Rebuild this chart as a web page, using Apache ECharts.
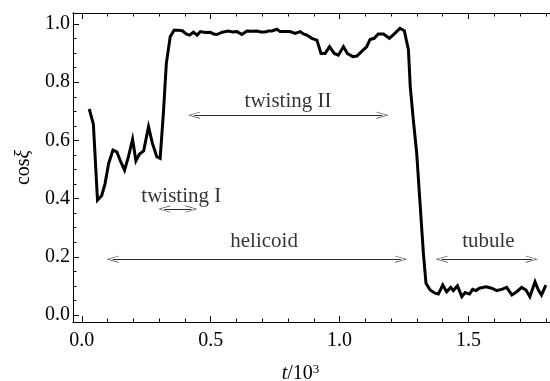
<!DOCTYPE html>
<html>
<head>
<meta charset="utf-8">
<script src="https://cdn.jsdelivr.net/npm/echarts@6/dist/echarts.min.js"></script>
<style>
  html, body { margin: 0; padding: 0; background: #fff; }
  #chart { width: 550px; height: 381px; }
</style>
</head>
<body>
<div id="chart"></div>
<script>
// time in units of 10^3
const tValues = [
  0.029, 0.045, 0.061, 0.077, 0.090, 0.104, 0.121, 0.136, 0.151, 0.166,
  0.181, 0.197, 0.210, 0.224, 0.240, 0.259, 0.274, 0.291, 0.304, 0.317,
  0.328, 0.343, 0.358, 0.375, 0.390, 0.405, 0.418, 0.433, 0.447, 0.460,
  0.479, 0.498, 0.511, 0.524, 0.545, 0.569, 0.585, 0.602, 0.621, 0.640,
  0.660, 0.679, 0.695, 0.711, 0.724, 0.737, 0.757, 0.769, 0.790, 0.808,
  0.828, 0.847, 0.860, 0.873, 0.892, 0.912, 0.928, 0.944, 0.961, 0.979,
  0.995, 1.015, 1.030, 1.051, 1.067, 1.092, 1.105, 1.118, 1.134, 1.150,
  1.170, 1.193, 1.209, 1.234, 1.251, 1.267, 1.274, 1.286, 1.299, 1.312,
  1.325, 1.335, 1.351, 1.370, 1.383, 1.400, 1.415, 1.431, 1.441, 1.457,
  1.474, 1.487, 1.504, 1.516, 1.529, 1.542, 1.568, 1.590, 1.609, 1.629,
  1.648, 1.668, 1.687, 1.706, 1.723, 1.738, 1.758, 1.771, 1.783, 1.800
];
const cosValues = [
  0.708, 0.656, 0.395, 0.410, 0.450, 0.520, 0.567, 0.561, 0.527, 0.498,
  0.544, 0.604, 0.530, 0.553, 0.564, 0.647, 0.590, 0.544, 0.538, 0.700,
  0.865, 0.956, 0.979, 0.979, 0.977, 0.966, 0.962, 0.972, 0.962, 0.974,
  0.971, 0.972, 0.966, 0.964, 0.972, 0.976, 0.973, 0.974, 0.964, 0.976,
  0.975, 0.976, 0.973, 0.973, 0.976, 0.976, 0.982, 0.974, 0.974, 0.974,
  0.968, 0.974, 0.966, 0.962, 0.951, 0.945, 0.899, 0.899, 0.922, 0.899,
  0.893, 0.922, 0.899, 0.888, 0.890, 0.911, 0.922, 0.947, 0.951, 0.966,
  0.966, 0.951, 0.964, 0.985, 0.977, 0.911, 0.785, 0.670, 0.556, 0.384,
  0.212, 0.109, 0.086, 0.075, 0.072, 0.103, 0.080, 0.095, 0.084, 0.100,
  0.063, 0.077, 0.072, 0.088, 0.084, 0.092, 0.097, 0.092, 0.084, 0.088,
  0.095, 0.069, 0.080, 0.095, 0.086, 0.063, 0.114, 0.086, 0.069, 0.103
];

const xMajorTicks = [0, 0.5, 1.0, 1.5];
const xMinorTicks = [0.1, 0.2, 0.3, 0.4, 0.6, 0.7, 0.8, 0.9, 1.1, 1.2, 1.3, 1.4, 1.6, 1.7, 1.8];
const yMajorTicks = [0, 0.2, 0.4, 0.6, 0.8, 1.0];
const yMinorTicks = [0.05, 0.1, 0.15, 0.25, 0.3, 0.35, 0.45, 0.5, 0.55, 0.65, 0.7, 0.75, 0.85, 0.9, 0.95];

// region arrows (tip to tip, height) and their labels
const arrowStart = [0.414, 0.298, 0.098, 1.374];
const arrowEnd = [1.188, 0.447, 1.260, 1.767];
const arrowY = [0.687, 0.364, 0.192, 0.192];
const regionNames = ["twisting II", "twisting I", "helicoid", "tubule"];
const regionLabelX = [0.800, 0.386, 0.707, 1.577];
const regionLabelY = [0.734, 0.409, 0.252, 0.252];

const serif = "Liberation Serif";
const chevron = "path://M5,0 L10,12 L9,12 L5,1.8 L1,12 L0,12 Z";
const headInset = 0.022; // arrow heads are centred on the line ends

const chart = echarts.init(document.getElementById("chart"), null, { renderer: "canvas" });

const xRange = { min: -0.034, max: 1.816 };
const yRange = { min: -0.024, max: 1.038 };

function xAxisDef(position, ticks, len, withLabels) {
  return {
    type: "value", position, ...xRange,
    axisLine: { show: true, onZero: false, lineStyle: { color: "#000", width: 1 } },
    axisTick: { show: true, inside: true, length: len, customValues: ticks, lineStyle: { color: "#000", width: 1 } },
    axisLabel: withLabels
      ? { show: true, customValues: ticks, margin: 9, color: "#000", fontFamily: serif, fontSize: 20, formatter: v => v.toFixed(1) }
      : { show: false },
    splitLine: { show: false }
  };
}
function yAxisDef(position, ticks, len, withLabels) {
  return {
    type: "value", position, ...yRange,
    axisLine: { show: true, onZero: false, lineStyle: { color: "#000", width: 1 } },
    axisTick: { show: true, inside: true, length: len, customValues: ticks, lineStyle: { color: "#000", width: 1 } },
    axisLabel: withLabels
      ? { show: true, customValues: ticks, margin: 3, color: "#000", fontFamily: serif, fontSize: 20, formatter: v => v.toFixed(1) }
      : { show: false },
    splitLine: { show: false }
  };
}

const xMain = xAxisDef("bottom", xMajorTicks, 6, true);
xMain.name = "{i|t}/10{sup|3}";
xMain.nameLocation = "middle";
xMain.nameGap = 41;
xMain.nameTextStyle = {
  color: "#000", fontFamily: serif, fontSize: 20, padding: [0, 22, 0, 0],
  rich: {
    i: { fontFamily: serif, fontSize: 20, fontStyle: "italic", color: "#000" },
    sup: { fontFamily: serif, fontSize: 13, color: "#000", padding: [0, 0, 9, 0] }
  }
};

const yMain = yAxisDef("left", yMajorTicks, 6, true);
yMain.name = "cos{i|ξ}";
yMain.nameLocation = "middle";
yMain.nameRotate = 90;
yMain.nameGap = 38;
yMain.nameTextStyle = {
  color: "#000", fontFamily: serif, fontSize: 20,
  rich: { i: { fontFamily: serif, fontSize: 20, fontStyle: "italic", color: "#000" } }
};

chart.setOption({
  animation: false,
  backgroundColor: "#fff",
  grid: { left: 73, right: 0, top: 13, bottom: 59, containLabel: false, outerBoundsMode: "none" },
  xAxis: [
    xMain,
    xAxisDef("bottom", xMinorTicks, 3.5, false),
    xAxisDef("top", xMajorTicks, 6, false),
    xAxisDef("top", xMinorTicks, 3.5, false)
  ],
  yAxis: [
    yMain,
    yAxisDef("left", yMinorTicks, 3.5, false)
  ],
  series: [
    {
      type: "line",
      data: tValues.map((t, i) => [t, cosValues[i]]),
      showSymbol: false,
      symbol: "none",
      lineStyle: { color: "#000", width: 3, join: "miter" },
      markLine: {
        silent: true,
        symbol: [chevron, chevron],
        symbolSize: [7, 12],
        lineStyle: { color: "#2a2a2a", width: 1, type: "solid" },
        label: { show: false },
        data: arrowStart.map((s, i) => [
          { coord: [s + headInset, arrowY[i]] },
          { coord: [arrowEnd[i] - headInset, arrowY[i]] }
        ])
      }
    },
    {
      type: "scatter",
      symbolSize: 0,
      silent: true,
      data: regionNames.map((n, i) => [regionLabelX[i], regionLabelY[i], n]),
      label: {
        show: true,
        position: "inside",
        formatter: p => p.data[2],
        color: "#000",
        fontFamily: serif,
        fontSize: 21
      }
    }
  ]
});
</script>
</body>
</html>
